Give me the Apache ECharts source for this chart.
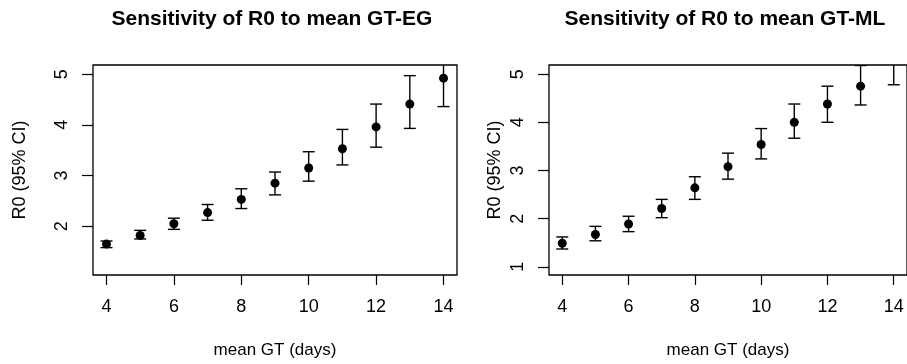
<!DOCTYPE html>
<html>
<head>
<meta charset="utf-8">
<script src="https://cdn.jsdelivr.net/npm/echarts@6/dist/echarts.min.js"></script>
<style>
  html, body { margin: 0; padding: 0; background: #fff; }
  #chart { width: 907px; height: 364px; }
</style>
</head>
<body>
<div id="chart"></div>
<script>
// mean generation time (days)
const gtDays = [4, 5, 6, 7, 8, 9, 10, 11, 12, 13, 14];
const xTicks = [4, 6, 8, 10, 12, 14];

// GT-EG: R0 estimate and 95% CI
const egMean = [1.65, 1.82, 2.05, 2.27, 2.53, 2.85, 3.15, 3.53, 3.96, 4.41, 4.92];
const egLow = [1.58, 1.75, 1.94, 2.12, 2.35, 2.62, 2.89, 3.21, 3.56, 3.93, 4.36];
const egHigh = [1.71, 1.92, 2.16, 2.43, 2.74, 3.07, 3.47, 3.91, 4.41, 4.97, 5.50];
const egTicks = [2, 3, 4, 5];

// GT-ML: R0 estimate and 95% CI
const mlMean = [1.49, 1.67, 1.89, 2.21, 2.64, 3.08, 3.54, 4.00, 4.38, 4.75, 5.30];
const mlLow = [1.37, 1.54, 1.73, 2.02, 2.40, 2.82, 3.24, 3.67, 4.00, 4.36, 4.78];
const mlHigh = [1.62, 1.84, 2.05, 2.40, 2.87, 3.36, 3.87, 4.38, 4.75, 5.18, 5.80];
const mlTicks = [1, 2, 3, 4, 5];

const titles = ['Sensitivity of R0 to mean GT-EG', 'Sensitivity of R0 to mean GT-ML'];

const FONT = 'Liberation Sans, Arial, sans-serif';
const chart = echarts.init(document.getElementById('chart'));

const toPairs = (ys) => gtDays.map((x, i) => [x, ys[i]]);
const toBars = (lo, hi) => gtDays.map((x, i) => [x, lo[i], hi[i]]);

function errorBar(params, api) {
  const top = api.coord([api.value(0), api.value(2)]);
  const bot = api.coord([api.value(0), api.value(1)]);
  const half = 6;
  const style = { stroke: '#000', lineWidth: 1.4 };
  return {
    type: 'group',
    children: [
      { type: 'line', shape: { x1: top[0], y1: top[1], x2: bot[0], y2: bot[1] }, style },
      { type: 'line', shape: { x1: top[0] - half, y1: top[1], x2: top[0] + half, y2: top[1] }, style },
      { type: 'line', shape: { x1: bot[0] - half, y1: bot[1], x2: bot[0] + half, y2: bot[1] }, style }
    ]
  };
}

const xAxisBase = (gridIndex) => ({
  type: 'value',
  gridIndex,
  min: 3.6,
  max: 14.4,
  name: 'mean GT (days)',
  nameLocation: 'middle',
  nameGap: 67,
  nameTextStyle: { color: '#000', fontSize: 17, fontFamily: FONT },
  axisLine: { show: false },
  splitLine: { show: false },
  axisTick: { show: true, length: 10, lineStyle: { color: '#000', width: 1.2 }, customValues: xTicks },
  axisLabel: { color: '#000', fontSize: 18, fontFamily: FONT, margin: 23, customValues: xTicks }
});

const yAxisBase = (gridIndex, min, max, ticks, nameGap) => ({
  type: 'value',
  gridIndex,
  min,
  max,
  name: 'R0 (95% CI)',
  nameLocation: 'middle',
  nameRotate: 90,
  nameGap,
  nameTextStyle: { color: '#000', fontSize: 18, fontFamily: FONT },
  axisLine: { show: false },
  splitLine: { show: false },
  axisTick: { show: true, length: 11, lineStyle: { color: '#000', width: 1.2 }, customValues: ticks },
  axisLabel: { color: '#000', fontSize: 18, fontFamily: FONT, rotate: 90, margin: 22, customValues: ticks }
});

const titleStyle = { color: '#000', fontSize: 21, fontWeight: 'bold', fontFamily: FONT };

const option = {
  backgroundColor: '#fff',
  animation: false,
  title: [
    { text: titles[0], left: 272, top: 9, textAlign: 'center', padding: 0, textStyle: titleStyle },
    { text: titles[1], left: 725, top: 9, textAlign: 'center', padding: 0, textStyle: titleStyle }
  ],
  grid: [
    { left: 93, top: 65, width: 364, height: 212, show: true, borderColor: '#000', borderWidth: 1.3, backgroundColor: 'transparent' },
    { left: 549, top: 65, width: 364, height: 212, show: true, borderColor: '#000', borderWidth: 1.3, backgroundColor: 'transparent' }
  ],
  xAxis: [xAxisBase(0), xAxisBase(1)],
  yAxis: [
    yAxisBase(0, 1.04, 5.18, egTicks, 64),
    yAxisBase(1, 0.83, 5.19, mlTicks, 45)
  ],
  series: [
    { type: 'custom', xAxisIndex: 0, yAxisIndex: 0, clip: true, renderItem: errorBar, data: toBars(egLow, egHigh) },
    { type: 'scatter', xAxisIndex: 0, yAxisIndex: 0, clip: true, symbol: 'circle', symbolSize: 9,
      itemStyle: { color: '#000', opacity: 1 }, data: toPairs(egMean) },
    { type: 'custom', xAxisIndex: 1, yAxisIndex: 1, clip: true, renderItem: errorBar, data: toBars(mlLow, mlHigh) },
    { type: 'scatter', xAxisIndex: 1, yAxisIndex: 1, clip: true, symbol: 'circle', symbolSize: 9,
      itemStyle: { color: '#000', opacity: 1 }, data: toPairs(mlMean) }
  ]
};

chart.setOption(option);
</script>
</body>
</html>
